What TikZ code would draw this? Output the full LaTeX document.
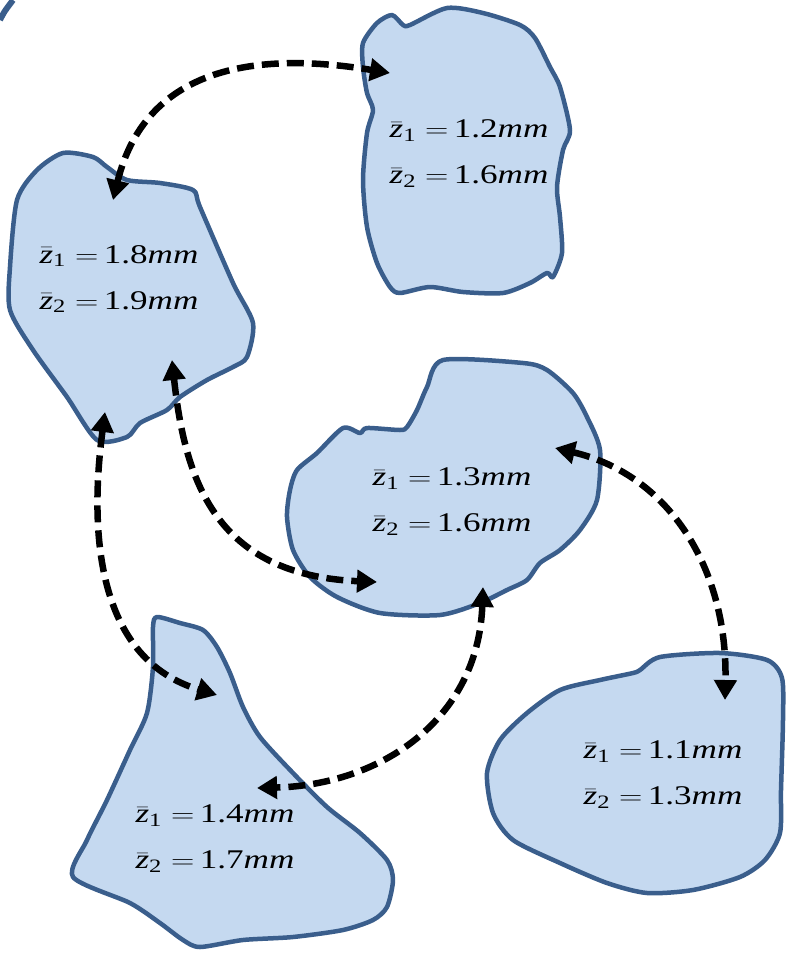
\documentclass[tikz,border=0pt]{standalone}
\usepackage{amsmath}
\usepackage{fontspec}
\setmainfont{Liberation Serif}
\usepackage{xcolor}
\usepackage{tikz}
\usetikzlibrary{arrows.meta}

\definecolor{grainfill}{RGB}{197,217,240}
\definecolor{grainedge}{RGB}{58,94,140}

\newcommand{\zval}[2]{\scalebox{1.3}[1]{$\bar{\text{\itshape z}}_{\text{#1}}\;{=}\,\text{#2}\textit{mm}$}}

\begin{document}
\begin{tikzpicture}[x=1pt, y=-1pt,
  grain/.style={fill=grainfill, draw=grainedge, line width=4.5pt, line join=round},
  link/.style={line width=6.5pt, dash pattern=on 17pt off 8pt,
    {Triangle[length=20pt,width=22pt]}-{Triangle[length=20pt,width=22pt]}},
  zlabel/.style={align=left, font=\fontsize{27}{46}\selectfont, inner sep=0pt}]
  \useasboundingbox (0,0) rectangle (788,954);

  % corner of a cut-off grain
  \draw[grainedge, line width=6pt] (0,20) .. controls (4,12) .. (13,0);

  % grains
  \draw[grain] plot[smooth cycle, tension=0.45] coordinates {
    (392,15) (403,25) (410,25) (447,8) (483,13) (520,25) (535,38) (550,67)
    (560,87) (570,130) (563,150) (557,187) (560,217) (562,253) (553,277)
    (547,273) (530,283) (503,293) (463,292) (430,287) (400,293) (390,287)
    (377,263) (367,227) (363,180) (367,133) (373,110) (367,93) (363,67)
    (363,43) (377,23)};
  \draw[grain] plot[smooth cycle, tension=0.45] coordinates {
    (63,153) (93,157) (107,167) (127,180) (160,183) (193,190) (200,207)
    (233,283) (253,323) (247,357) (233,367) (207,380) (180,397) (167,410)
    (140,423) (127,437) (97,440) (67,397) (33,350) (10,310) (10,267)
    (17,200) (37,170)};
  \draw[grain] plot[smooth cycle, tension=0.45] coordinates {
    (443,360) (523,363) (547,370) (573,393) (587,417) (600,450) (597,500)
    (580,530) (560,550) (540,563) (527,580) (507,590) (480,603) (440,615)
    (380,613) (337,597) (310,577) (293,550) (287,517) (290,490) (297,470)
    (317,453) (343,428) (360,433) (367,428) (400,430) (407,427) (417,410)
    (427,387)};
  \draw[grain] plot[smooth cycle, tension=0.45] coordinates {
    (157,617) (180,623) (203,630) (217,647) (230,673) (243,707) (260,737)
    (293,773) (327,807) (360,833) (387,860) (393,880) (387,907) (373,920)
    (343,930) (293,937) (243,940) (200,947) (183,940) (160,923) (130,903)
    (73,877) (87,840) (107,800) (130,750) (147,713) (153,667) (153,627)};
  \draw[grain] plot[smooth cycle, tension=0.45] coordinates {
    (640,670) (660,657) (720,653) (767,660) (782,678) (783,720) (781,790)
    (780,833) (765,860) (740,877) (693,890) (647,893) (607,883) (560,863)
    (513,840) (493,813) (487,773) (500,740) (527,713) (560,690) (600,680)
    (633,673)};

  % arrow ends
  \coordinate (aTop) at (390,73);
  \coordinate (aLeftTop) at (113,200);
  \coordinate (aLeftLow) at (105,412);
  \coordinate (aLeftMid) at (172,360);
  \coordinate (aMidLeft) at (377,582);
  \coordinate (aMidRight) at (555,448);
  \coordinate (aMidLow) at (483,587);
  \coordinate (aLowRight) at (725,700);
  \coordinate (aLowLeftTop) at (217,695);
  \coordinate (aLowLeftMid) at (257,788);

  \draw[link] (aLeftTop) .. controls (145,70) and (250,50) .. (aTop);
  \draw[link] (aLeftLow) .. controls (88,540) and (100,660) .. (aLowLeftTop);
  \draw[link] (aLeftMid) .. controls (185,480) and (215,575) .. (aMidLeft);
  \draw[link] (aMidRight) .. controls (670,475) and (728,570) .. (aLowRight);
  \draw[link] (aMidLow) .. controls (478,720) and (380,785) .. (aLowLeftMid);

  % labels
  \node[zlabel] (lblA) at (469,154) {\zval{1}{1.2}\\\zval{2}{1.6}};
  \node[zlabel] (lblB) at (119,279) {\zval{1}{1.8}\\\zval{2}{1.9}};
  \node[zlabel] (lblC) at (452,502) {\zval{1}{1.3}\\\zval{2}{1.6}};
  \node[zlabel] (lblD) at (215,839) {\zval{1}{1.4}\\\zval{2}{1.7}};
  \node[zlabel] (lblE) at (663,775) {\zval{1}{1.1}\\\zval{2}{1.3}};
\end{tikzpicture}
\end{document}
